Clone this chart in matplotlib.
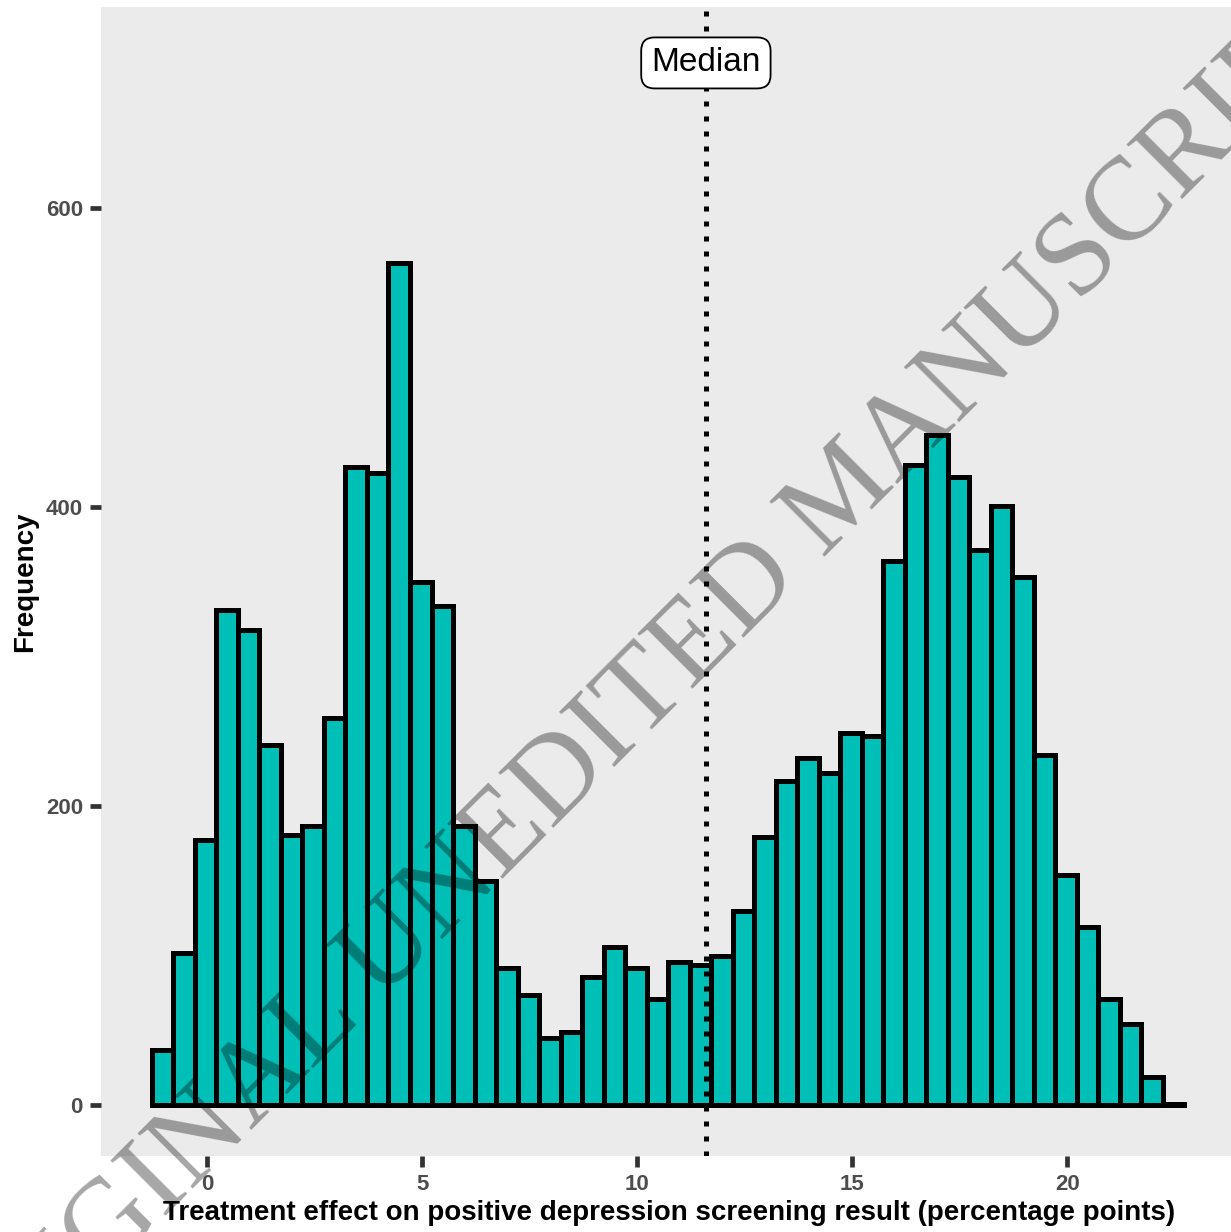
import matplotlib.pyplot as plt
import numpy as np

# histogram: 0.5-wide bins starting at -1.28
bin_start = -1.28
bin_width = 0.5
counts = [37, 102, 177, 331, 318, 241, 181, 187, 259, 427, 423, 563,
          350, 334, 187, 150, 92, 74, 45, 49, 86, 106, 92, 71,
          96, 94, 100, 130, 179, 217, 232, 222, 249, 247, 364, 428,
          448, 420, 371, 401, 353, 234, 154, 119, 71, 54, 19, 1]
median_value = 11.6
median_label = "Median"
label_y = 697
x_ticks = [0, 5, 10, 15, 20]
y_ticks = [0, 200, 400, 600]
x_title = "Treatment effect on positive depression screening result (percentage points)"
y_title = "Frequency"
watermark = "ORIGINAL UNEDITED MANUSCRIPT"

edges = bin_start + bin_width * np.arange(len(counts) + 1)

fig = plt.figure(figsize=(12.31, 12.32), dpi=100)
ax = fig.add_axes([101 / 1231, 1 - 1156 / 1232, 1 - 101 / 1231, (1156 - 7) / 1232])
ax.set_facecolor("#EBEBEB")

ax.bar(edges[:-1], counts, width=bin_width, align="edge",
       color="#00BFB7", edgecolor="black", linewidth=3.6, zorder=2)

ax.axvline(median_value, color="black", linewidth=3.6,
           linestyle=(0, (1, 2)), dash_capstyle="butt", zorder=3)
ax.text(median_value, label_y, median_label, ha="center", va="center",
        fontsize=24, family="Liberation Sans", zorder=4,
        bbox=dict(boxstyle="round,pad=0.3,rounding_size=0.4", fc="white",
                  ec="black", lw=1.3))

ax.set_xlim(-2.465, 23.81)
ax.set_ylim(-34, 734.4)
ax.set_xticks(x_ticks)
ax.set_yticks(y_ticks)
for s in ax.spines.values():
    s.set_visible(False)
ax.tick_params(length=8, width=3.4, color="#333333", labelcolor="#4D4D4D",
               labelsize=16, pad=5)
for lab in ax.get_xticklabels() + ax.get_yticklabels():
    lab.set_fontweight("bold")
    lab.set_family("Liberation Sans")

fig.text(25 / 1231, 1 - 582 / 1232, y_title, rotation=90, ha="center", va="center",
         fontsize=20, fontweight="bold", family="Liberation Sans")
fig.text(669 / 1231, 1 - 1213 / 1232, x_title, ha="center", va="center",
         fontsize=20, fontweight="bold", family="Liberation Sans")

# watermark, black at low alpha so it darkens the bars like the original
fig.text(660 / 1231, 1 - 722 / 1232, watermark, rotation=45, rotation_mode="anchor",
         ha="center", va="baseline", fontsize=85, family="Liberation Serif",
         color="black", alpha=0.35, zorder=10)

fig.savefig("out.png", dpi=100)
